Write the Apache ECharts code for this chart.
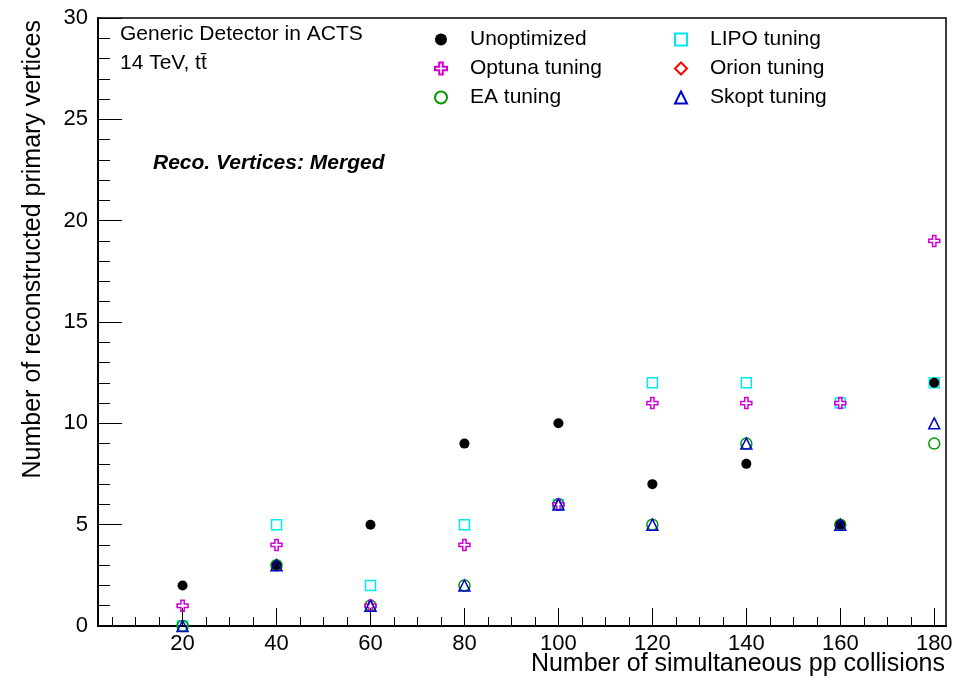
<!DOCTYPE html>
<html><head><meta charset="utf-8">
<script src="https://cdn.jsdelivr.net/npm/echarts@6/dist/echarts.min.js"></script>
<style>html,body{margin:0;padding:0;background:#fff}#c{width:968px;height:681px}</style>
</head><body><div id="c"></div>
<script>
const pileup = [20, 40, 60, 80, 100, 120, 140, 160, 180];
const unoptimized = [2, 3, 5, 9, 10, 7, 8, 5, 12];
const optuna = [1, 4, 1, 4, 6, 11, 11, 11, 19];
const ea = [0, 3, 1, 2, 6, 5, 9, 5, 9];
const lipo = [0, 5, 2, 5, 6, 12, 12, 11, 12];
const orion = [];
const skopt = [0, 3, 1, 2, 6, 5, 9, 5, 10];
const xMajorTicks = [20, 40, 60, 80, 100, 120, 140, 160, 180];
const xMinorTicks = [];
for (let v = 5; v <= 180; v += 5) xMinorTicks.push(v);

const FONT = '"Liberation Sans", Arial, Helvetica, sans-serif';
const pts = arr => arr.map((y, i) => [pileup[i], y]);
const crossPath = 'path://M35,0H65V35H100V65H65V100H35V65H0V35H35Z';

function openSeries(name, data, symbol, color, size) {
  return {
    name, type: 'scatter', data: pts(data), symbol, symbolSize: size,
    xAxisIndex: 0, yAxisIndex: 0,
    itemStyle: { color: 'rgba(0,0,0,0)', borderColor: color, borderWidth: 1.5, opacity: 1 },
    emphasis: { disabled: true }
  };
}

const chart = echarts.init(document.getElementById('c'), null, { renderer: 'canvas' });
chart.setOption({
  animation: false,
  backgroundColor: '#fff',
  textStyle: { fontFamily: FONT },
  grid: { left: 98, right: 22, top: 18, bottom: 55, show: true, borderColor: '#000', borderWidth: 1.5, backgroundColor: 'transparent' },
  xAxis: [{
    type: 'value', min: 2, max: 182.5, position: 'bottom',
    axisLine: { show: true, onZero: false, lineStyle: { color: '#000', width: 2 } },
    axisTick: { show: true, inside: true, length: 18, customValues: xMajorTicks, lineStyle: { color: '#000', width: 1 } },
    axisLabel: { show: true, customValues: xMajorTicks, color: '#000', fontSize: 22, margin: 7, fontFamily: FONT },
    splitLine: { show: false }
  }, {
    type: 'value', min: 2, max: 182.5, position: 'bottom',
    axisLine: { show: false },
    axisTick: { show: true, inside: true, length: 9, customValues: xMinorTicks, lineStyle: { color: '#000', width: 1 } },
    axisLabel: { show: false },
    splitLine: { show: false }
  }],
  yAxis: {
    type: 'value', min: 0, max: 30, interval: 5,
    axisLine: { show: true, onZero: false, lineStyle: { color: '#000', width: 2 } },
    axisTick: { show: true, inside: true, length: 24, lineStyle: { color: '#000', width: 1 } },
    minorTick: { show: true, splitNumber: 5, length: 12, lineStyle: { color: '#000', width: 1 } },
    axisLabel: { color: '#000', fontSize: 22, margin: 10, fontFamily: FONT },
    splitLine: { show: false }
  },
  legend: [{
    data: ['Unoptimized', 'Optuna tuning', 'EA tuning'],
    orient: 'vertical', left: 429, top: 24, itemWidth: 12, itemHeight: 12, itemGap: 8,
    selectedMode: false,
    textStyle: { fontSize: 21, color: '#000', fontFamily: FONT, lineHeight: 20, padding: [0, 0, 0, 18] }
  }, {
    data: ['LIPO tuning', 'Orion tuning', 'Skopt tuning'],
    orient: 'vertical', left: 669, top: 24, itemWidth: 12, itemHeight: 12, itemGap: 8,
    selectedMode: false,
    textStyle: { fontSize: 21, color: '#000', fontFamily: FONT, lineHeight: 20, padding: [0, 0, 0, 18] }
  }],
  series: [
    openSeries('LIPO tuning', lipo, 'rect', '#00e8f0', 10),
    openSeries('EA tuning', ea, 'circle', '#009a00', 11),
    openSeries('Orion tuning', orion, 'diamond', '#ff0000', 12),
    {
      name: 'Unoptimized', type: 'scatter', data: pts(unoptimized), symbol: 'circle', symbolSize: 10,
      itemStyle: { color: '#000', opacity: 1 }, emphasis: { disabled: true }
    },
    openSeries('Optuna tuning', optuna, crossPath, '#d000d0', 11),
    openSeries('Skopt tuning', skopt, 'triangle', '#0000cc', 11)
  ],
  graphic: [
    { type: 'text', left: 120, top: 24, style: { text: 'Generic Detector in ACTS', fontSize: 21, fontFamily: FONT, fill: '#000' } },
    { type: 'text', left: 120, top: 53, style: { text: '14 TeV, t\u0074\u0304', fontSize: 21, fontFamily: FONT, fill: '#000' } },
    { type: 'text', left: 153, top: 153, style: { text: 'Reco. Vertices: Merged', fontSize: 21, fontWeight: 'bold', fontStyle: 'italic', fontFamily: FONT, fill: '#000' } },
    { type: 'text', x: 945, y: 664, style: { text: 'Number of simultaneous pp collisions', fontSize: 25, fontFamily: FONT, fill: '#000', align: 'right', verticalAlign: 'middle' } },
    { type: 'text', x: 33, y: 20, rotation: Math.PI / 2, style: { text: 'Number of reconstructed primary vertices', fontSize: 25, fontFamily: FONT, fill: '#000', align: 'right', verticalAlign: 'middle' } }
  ]
});
</script></body></html>
